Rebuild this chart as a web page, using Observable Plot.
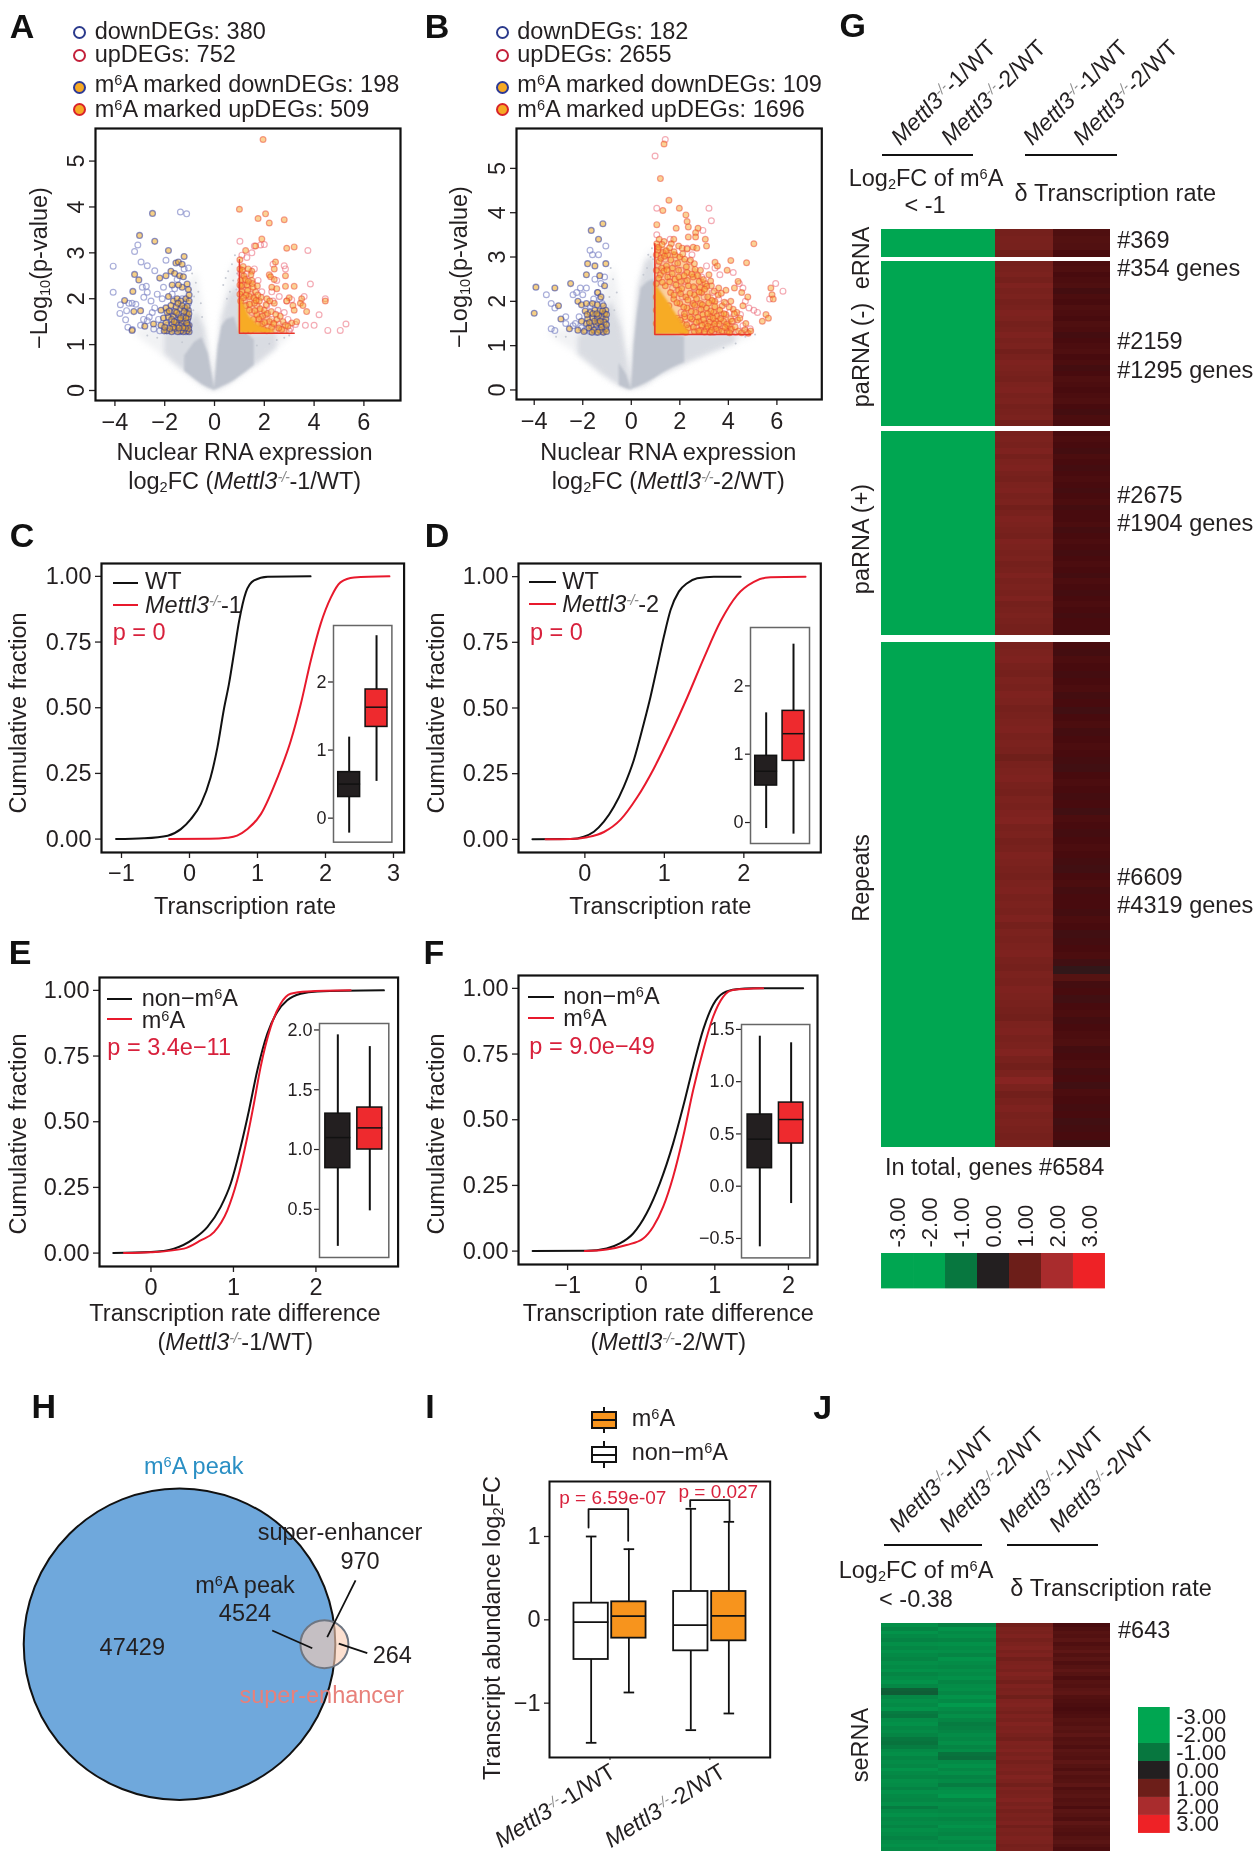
<!DOCTYPE html>
<html><head><meta charset="utf-8">
<script src="https://cdn.jsdelivr.net/npm/d3@7"></script>
<script src="https://cdn.jsdelivr.net/npm/@observablehq/plot@0.6"></script>
<style>
html,body{margin:0;padding:0;background:#fff}
#fig{position:relative;width:1260px;height:1862px;overflow:hidden;font-family:"Liberation Sans",Arial,sans-serif;color:#231f20;filter:blur(.35px)}
#fig svg{overflow:visible;max-width:none}
sup{font-size:.62em;line-height:0;vertical-align:.5em}
sub{font-size:.62em;line-height:0;vertical-align:-.22em}
sup.k{color:#8a8a8a;letter-spacing:-.04em}
</style></head><body><div id="fig"></div>
<script>
// ---------- Volcano A ----------
const aGreyFaint=[[-3.2,1.25,1.3],[-2.9,1.1,1.35],[-2.4,.9,1.4],[-2,.72,1.6],[-1.5,.5,1.9],[-1,.32,2.4],[-.7,.2,2.6],[-.4,.08,1.7],[-.2,.03,.9],[0,0,.1],[.15,.03,1],[.35,.08,1.9],[.6,.15,2.6],[.95,.28,2.9],[1.4,.45,1.3],[2,.68,1.3],[2.6,.95,1.3],[3.1,1.2,1.3]];
const aGreyMid=[[-2,.8,1.25],[-1.5,.55,1.3],[-1,.33,1.5],[-.7,.2,1.7],[-.4,.08,1.35],[-.2,.03,.7],[0,0,.05],[.1,.02,.7],[.3,.06,1.6],[.6,.14,2.1],[.95,.28,2.3],[1.3,.42,1.25],[1.9,.65,1.25],[2.5,.92,1.25]];
const aGreySolid=[[-1.2,.42,.75],[-.8,.25,1.05],[-.5,.13,1.15],[-.25,.06,.8],[-.08,.02,.3],[0,0,.04],[.05,.02,.35],[.15,.04,.95],[.3,.08,1.4],[.5,.13,1.55],[.8,.22,1.6],[1,.3,1.25],[1.3,.42,1.25],[1.6,.55,1.1]];
const aGreyDots=[[.35,2.3],[.45,2.45],[.55,2.6],[.62,2.15],[.7,2.75],[.75,2.4],[.82,2.95],[.88,2.2],[.9,2.55],[.5,2],[-.55,1.9],[-.65,2.15],[-.75,2.35],[-.82,2.05],[-.9,2.55],[-.5,1.6],[-.85,1.75],[-.95,2.2],[-1.3,1.05],[-2.3,1.15],[-2.7,1.2],[2.8,1.15],[3,1.2],[2.5,1.1],[2.2,1.02],[1.7,.98]];
const aDownOpen=[[-4.07,2.71],[-4.07,2.14],[-3.21,3.03],[-3.08,3.17],[-2.95,2.8],[-2.7,2.72],[-2.4,2.61],[-1.37,3.89],[-1.12,3.85],[-1.95,2.84],[-1.22,2.65],[-1.05,2.67],[-1.5,2.42],[-2.74,2.27],[-2.9,2.25],[-2.7,2.14],[-2.84,2.03],[-3.78,1.87],[-3.44,1.9],[-3.31,1.9],[-3.16,1.88],[-3.8,1.68],[-3.53,1.74],[-3.57,1.54],[-3.48,1.38],[-3.3,1.33],[-2.97,1.42],[-2.7,1.52],[-2.44,1.34],[-2.3,2.1],[-2.1,2],[-2.55,1.95],[-2.5,1.7],[-2.25,1.55],[-2.2,1.3],[-1.9,1.42],[-1.75,1.7],[-1.7,2.1],[-1.85,1.3],[-1.6,1.3],[-1.4,1.28],[-1.15,1.28],[-1.3,2],[-1.6,2.22],[-1.2,1.5],[-2.05,2.25],[-2.4,1.8],[-2.62,1.6],[-2.85,1.55],[-1.05,1.9],[-1.1,1.4],[-1.5,1.55]];
const aDownMarked=[[-2.49,3.86],[-3.01,3.38],[-2.4,3.25],[-1.85,3.05],[-1.22,2.92],[-3.21,2.53],[-3.04,2.41],[-3.28,2.16],[-3.61,1.96],[-3.24,1.72],[-2.97,1.74],[-3.31,1.31],[-2.2,2.45],[-1.95,2.5],[-1.55,2.78],[-1.45,2.8],[-1.3,2.75],[-1.75,2.6],[-1.6,2.55],[-1.4,2.5],[-1.25,2.48],[-1.1,2.32],[-1.05,2.2],[-1.3,2.25],[-1.45,2.3],[-1.7,2.3],[-1.85,2.05],[-1.65,1.95],[-1.5,2],[-1.35,1.95],[-1.15,2],[-1.05,1.75],[-1.2,1.8],[-1.38,1.78],[-1.55,1.82],[-1.75,1.85],[-1.95,1.8],[-2.15,1.75],[-2.05,1.58],[-1.85,1.6],[-1.65,1.62],[-1.45,1.65],[-1.25,1.62],[-1.08,1.55],[-1.02,1.42],[-1.2,1.4],[-1.32,1.45],[-1.5,1.42],[-1.7,1.45],[-1.95,1.47],[-2.15,1.42],[-1.02,1.28],[-1.1,1.3],[-1.25,1.28],[-1.35,1.3],[-1.48,1.28],[-1.6,1.35],[-1.72,1.28],[-1.92,1.3],[-2.02,1.3],[-2.45,1.45],[-2.8,1.4],[-1.05,1.6],[-1.12,1.68],[-1.02,1.95],[-1.02,2.08],[-1.08,1.42],[-1.28,1.52],[-1.6,1.72],[-1.4,1.55],[-1.9,1.7],
[-1.04,1.35],[-1.17,1.36],[-1.27,1.37],[-1.43,1.36],[-1.55,1.48],[-1.66,1.38],[-1.8,1.35],[-1.12,1.47],[-1.03,1.67],[-1.15,1.58],[-1.36,1.58],[-1.52,1.7],[-1.72,1.55],[-1.82,1.73],[-1.22,1.72],[-1.3,1.85],[-1.47,1.9],[-1.1,1.83],[-1.62,1.5],[-2,1.38]];
const aUpOpen=[[1.02,3.25],[1.1,2.95],[1.3,2.9],[1.5,3],[1.6,3.15],[1.85,3.17],[2,3.18],[3.75,3.05],[3.85,2.32],[3.6,2.05],[4.45,2],[5.28,1.45],[4.55,1.31],[5.05,1.31],[4,1.42],[4.2,1.65],[3.65,1.42],[3.25,1.44],[3.05,1.35],[2.35,2.75],[2.8,2.72],[2.85,2.65],[2.5,2.4],[2.3,2.15],[2.6,2.05],[2.9,1.95],[3.1,1.98],[2.35,1.95],[2.1,1.85],[2.55,1.75],[2.8,1.7],[1.75,2.4],[1.9,2.15],[1.6,2.65],[1.3,2.55],[1.15,2.3],[2.05,1.65],[2.3,1.55],[2.6,1.45],[2.95,1.55],[1.05,2.55],[1.45,2.1],[1.7,1.85],[1.85,1.6],[2.15,1.4],[1.2,1.95],[1.5,1.7],[1.85,1.35],[2.45,1.32],[3,1.3]];
const aUpMarked=[[1.95,5.47],[1,3.95],[2.05,3.85],[1.75,3.75],[2.2,3.65],[2.8,3.72],[1.9,3.3],[1.25,3.05],[1.65,3.15],[2.9,3.1],[3.2,3.13],[1.02,2.85],[1.02,2.65],[1.15,2.7],[1.5,2.6],[2.45,2.8],[2.4,2.65],[2.85,2.5],[2.2,2.52],[2.25,2.48],[2.4,2.42],[3.2,2.27],[2.85,2.27],[2.3,2.25],[2.5,2.22],[4.45,1.95],[3.5,2],[3.45,1.9],[3.55,1.85],[3,2.02],[2.9,1.95],[3.15,1.85],[3.2,1.75],[3.7,1.72],[2.4,1.9],[2.1,2],[1.05,2.4],[1.3,2.3],[1.5,2.4],[1.1,2.15],[1.4,2.05],[1.65,2.15],[1.05,1.95],[1.25,1.85],[1.6,1.9],[1.8,1.95],[1.4,1.75],[1.7,1.65],[2,1.75],[2.2,1.5],[2.5,1.55],[2.75,1.5],[3.1,1.47],[3.3,1.5],[1.9,1.45],[2.1,1.3],[2.3,1.38],[2.7,1.33],[2.85,1.42],[2.95,1.4],[1.02,2.1],[1.02,2.3],[1.18,2.5],[1.35,2.65],[1.55,2.25],[1.75,1.45],[1.62,1.35],[1.45,1.3],[1.25,1.3],
[1.12,2.62],[1.24,2.42],[1.33,2.18],[1.46,2.52],[1.58,2.02],[1.72,2.28],[1.83,1.78],[1.67,1.96],[1.52,2.33],[1.93,1.62],[2.02,1.48],[2.13,1.68],[2.28,1.72],[2.38,1.46],[1.87,2.03],[1.41,1.88],[1.27,2.08],[1.16,2.02],[1.08,2.28],[1.62,1.74],[1.78,1.56],[1.96,1.33],[2.58,1.36],[2.64,1.62],[2.07,1.87],[1.36,2.38],[1.74,2.08],[2.22,1.95],[2.46,1.66],[1.56,1.55]];
const aUpSpeck=[[1,1.25,2.75],[1.3,1.25,2.5],[1.6,1.25,2.15],[2,1.25,1.75],[2.5,1.25,1.5],[3,1.25,1.32]];
const aUpSolid=[[1,1.25,2.05],[1.2,1.25,1.85],[1.4,1.25,1.62],[1.7,1.25,1.45],[2,1.25,1.36],[2.4,1.25,1.3]];
const aUpEdge=[[1,2.85],[1,1.25],[3.2,1.25]];
// ---------- Volcano B ----------
const bGreyFaint=[[-3.4,1.25,1.3],[-3,1.1,1.35],[-2.4,.88,1.4],[-1.8,.6,1.7],[-1.2,.35,2.2],[-.7,.15,2.8],[-.3,.05,1.6],[0,0,.1],[.08,.03,1.2],[.3,.05,2.4],[.6,.1,3],[.95,.25,3.2],[1.5,.4,1.3],[2.5,.65,1.3],[3.5,.85,1.3],[4.5,1.1,1.3],[5,1.22,1.3]];
const bGreyMid=[[-2.2,.8,1.2],[-1.7,.58,1.35],[-1.2,.35,1.7],[-.8,.2,2],[-.4,.06,1.4],[-.15,.02,.7],[-.02,0,.1],[.06,.02,.9],[.3,.05,2.3],[.6,.1,2.9],[.95,.25,3],[1.5,.4,1.25],[2.5,.65,1.25],[3.5,.88,1.25],[4.3,1.05,1.25]];
const bGreySolid=[[-.5,.1,.6],[-.2,.03,.35],[0,0,.03],[.05,.02,.35],[.12,.04,1],[.25,.06,1.7],[.41,.1,2.3],[.7,.18,2.45],[.96,.26,2.5],[1.3,.38,1.25],[1.7,.5,1.25],[2.2,.62,1.2]];
const bGreyDots=[[-.6,2.2],[-.75,2.5],[-.85,2.75],[-.9,2.1],[-.7,1.8],[-.95,1.6],[.7,3.05],[.85,3.2],[.9,2.95],[.5,2.6],[.65,2.75],[.8,3],[-2.7,1.2],[-3.1,1.2],[4.7,1.2],[5.1,1.25],[4.3,1.05],[3.8,.95]];
const bDownOpen=[[-3.5,2.15],[-3.15,1.85],[-3.3,1.95],[-3.3,1.38],[-3.15,1.34],[-2.7,1.5],[-2.7,1.65],[-2.4,1.45],[-2.4,2.15],[-2.25,2.2],[-2.1,2.3],[-2.0,2.15],[-1.85,2.3],[-1.7,3.15],[-1.6,3.05],[-1.35,3.05],[-1.05,3.25],[-1.1,2.55],[-1.5,2.5],[-1.25,2.4],[-1.4,2.2],[-1.3,2.05],[-1.2,1.95],[-1.55,2.05],[-1.7,1.9],[-2.15,1.65],[-2.3,1.5],[-2.05,1.4],[-1.9,1.35],[-1.7,1.32],[-1.45,1.3],[-1.2,1.32],[-1.05,1.5]];
const bDownMarked=[[-4,1.73],[-3.93,2.32],[-3.15,2.3],[-3,1.9],[-2.9,1.6],[-2.5,2.4],[-1.65,3.6],[-1.17,3.75],[-1.35,3.4],[-1.05,2.85],[-1.8,2.85],[-1.5,2.8],[-1.85,2.6],[-1.3,2.58],[-1.1,2.35],[-1.38,2.2],[-1.25,2.1],[-2.2,2],[-2.05,1.92],[-1.85,1.95],[-1.6,1.95],[-1.4,1.92],[-1.15,1.9],[-1.05,1.8],[-1.3,1.78],[-1.5,1.8],[-1.7,1.75],[-1.9,1.78],[-1.6,1.62],[-1.8,1.6],[-1.4,1.62],[-1.2,1.65],[-1.05,1.6],[-1.25,1.48],[-1.45,1.48],[-1.65,1.45],[-1.85,1.5],[-2.05,1.55],[-1.05,1.38],[-1.15,1.3],[-1.3,1.35],[-1.55,1.35],[-1.75,1.4],[-1.95,1.32],[-2.2,1.35],[-2.55,1.38],[-1.35,1.68],[-1.1,1.72],
[-1.02,1.32],[-1.22,1.42],[-1.37,1.52],[-1.52,1.55],[-1.72,1.52],[-1.12,1.53],[-1.02,1.47],[-1.58,1.72],[-1.42,1.72],[-1.28,1.55],[-1.18,1.78],[-1.62,1.3],[-1.38,1.3],[-1.82,1.7],[-1.02,1.7]];
const bUpOpen=[[.98,5.28],[1.4,5.65],[1.05,4.1],[3.2,4.1],[3.3,3.82],[2.95,3.6],[1.05,3.5],[1.6,3.4],[2.3,3.2],[2.5,3.05],[3.1,2.8],[3.45,2.75],[3.65,2.6],[4.2,2.65],[4.45,2.4],[4.6,2.3],[5.95,2.4],[6.25,2.23],[5.7,2.05],[4.7,2],[4.85,1.85],[5.05,1.8],[5.2,1.75],[4.5,1.7],[4.2,1.55],[4.6,1.45],[4.9,1.38],[4.3,1.3],[4.75,1.3],[3.8,1.32],[3.4,1.3],[2.4,2.9],[2.05,2.7],[1.8,2.85],[1.4,2.95],[1.1,2.8],[1.25,3.05],[1.6,2.55],[2.2,2.45],[2.6,2.3],[2.9,2.55],[3,2.1],[3.35,2.2],[3.6,2.05],[3.9,1.95],[4.05,1.75],[3.7,1.7],[3.2,1.6],[2.8,1.8],[2.5,1.9],[2.1,2.1],[1.7,2.3],[2.05,1.75],[2.4,1.5],[2.7,1.4],[3,1.32],[3.55,1.45]];
const bUpMarked=[[1.35,5.55],[1.2,4.77],[1.55,4.28],[1.3,4.05],[1.98,4.1],[2.25,3.95],[2.3,3.8],[2.35,3.68],[1.05,3.73],[1.85,3.65],[2.35,3.45],[2.75,3.65],[2.65,3.55],[2.65,3.45],[5.05,3.3],[3.05,3.4],[3.1,3.25],[1.05,3.3],[1.15,3.4],[1.35,3.35],[1.65,3.3],[1.75,3.4],[1.95,3.25],[2.1,3.2],[2.3,3.18],[2.55,3.22],[2.7,3.2],[4.1,2.92],[3.45,2.88],[3.55,2.8],[3.95,2.7],[4.75,2.87],[1.1,3.15],[1.3,3.1],[1.5,3.05],[1.8,3.05],[2,3],[2.2,2.95],[2.6,2.85],[2.85,2.7],[3.2,2.6],[1.15,2.9],[1.45,2.8],[1.7,2.75],[1.95,2.7],[2.3,2.65],[2.55,2.55],[2.8,2.45],[3.05,2.4],[3.3,2.35],[3.6,2.3],[3.9,2.25],[4.4,2.45],[4.55,2.2],[4.25,2.3],[5.75,2.3],[5.8,2.15],[5.85,2.05],[1.2,2.6],[1.5,2.55],[1.8,2.5],[2.05,2.45],[2.35,2.35],[2.6,2.15],[2.9,2.2],[3.15,2.1],[3.45,2],[3.75,1.9],[4.1,2],[4.6,1.9],[4.8,2.1],[1.4,2.35],[1.95,2.25],[2.25,2.1],[2.55,1.95],[2.85,1.95],[3.1,1.85],[3.4,1.75],[3.65,1.8],[3.9,1.7],[4.1,1.6],[1.75,2.05],[2,1.95],[2.3,1.85],[2.65,1.75],[2.95,1.7],[3.25,1.65],[3.5,1.55],[3.8,1.55],[4,1.45],[5.4,1.55],[5.55,1.7],[5.65,1.62],[4.2,1.82],[4.35,1.75],[2.2,1.65],[2.5,1.6],[2.8,1.55],[3.05,1.5],[3.3,1.42],[3.6,1.35],[3.95,1.32],[2.35,1.4],[2.6,1.32],[2.85,1.35],[3.1,1.38],[3.25,1.3],[2.1,1.5],[1.9,1.62],[2.05,1.35],[1.75,1.4],[1.55,1.9],[1.62,2.2],[1.25,2.75],[1.03,3.05],[1.03,2.7],[1.03,2.4],[1.03,2.1],[1.03,1.8],[1.03,1.5],
[1.12,3.22],[1.27,3.28],[1.44,3.14],[1.58,3.21],[1.22,2.97],[1.37,3.02],[1.63,2.93],[1.76,3.12],[1.91,2.86],[2.12,3.07],[2.27,2.78],[2.44,2.93],[2.63,2.72],[2.49,2.61],[2.73,2.58],[2.97,2.49],[2.84,2.31],[3.11,2.34],[3.27,2.46],[3.42,2.23],[3.58,2.14],[3.33,2.02],[3.71,2.18],[3.84,1.98],[4.03,1.87],[4.24,1.72],[4.38,1.58],[1.13,2.52],[1.28,2.43],[1.34,2.68],[1.47,2.71],[1.58,2.44],[1.69,2.62],[1.84,2.37],[1.96,2.55],[2.08,2.29],[2.18,2.58],[2.31,2.47],[2.42,2.18],[2.57,2.33],[2.69,2.06],[2.79,2.21],[2.93,1.92],[3.02,2.27],[3.19,1.96],[3.28,1.78],[3.44,1.88],[3.53,1.67],[3.68,1.61],[3.82,1.72],[3.93,1.48],[4.12,1.37],[4.28,1.42],[1.76,2.14],[1.88,1.97],[2.03,2.17],[2.16,1.87],[2.33,2.03],[2.47,1.77],[2.61,1.91],[2.74,1.64],[2.87,1.82],[2.98,1.59],[3.14,1.72],[3.23,1.53],[3.37,1.62],[3.48,1.38],[3.62,1.49],[3.74,1.33],[3.86,1.41],[2.02,1.58],[2.19,1.72],[2.28,1.47],[2.43,1.64],[2.56,1.42],[2.68,1.53],[2.78,1.33],[2.91,1.46],[3.02,1.31],[3.16,1.44],[3.31,1.34],[3.43,1.49],[2.12,1.33],[2.24,1.3],[1.95,1.42],[4.42,1.33],[4.55,1.29],[4.68,1.36],[4.82,1.28],[4.92,1.33],[4.05,1.29],[4.15,1.55],[4.47,1.62],[4.72,1.5]];
const bUpSpeck=[[.97,1.25,3.3],[1.5,1.25,3.2],[2,1.25,3.05],[2.5,1.25,2.85],[2.9,1.25,2.6],[3.4,1.25,2.1],[3.9,1.25,1.7],[4.3,1.25,1.4]];
const bUpSolid=[[.97,1.25,2.4],[1.5,1.25,2],[2.1,1.25,1.5],[2.4,1.25,1.3]];
const bUpEdge=[[.97,3.3],[.97,1.25],[4.9,1.25]];
// ---------- CDF curves ----------
const cWT=[[-1.08,0],[-.67,.003],[-.32,.013],[-.127,.038],[.02,.076],[.167,.133],[.31,.234],[.41,.348],[.51,.5],[.58,.59],[.66,.717],[.73,.83],[.83,.94],[.95,.985],[1.15,.999],[1.78,1]];
const cKO=[[-.3,0],[.3,.001],[.55,.005],[.7,.013],[.853,.038],[1.05,.095],[1.294,.234],[1.49,.374],[1.637,.514],[1.784,.68],[1.93,.82],[2.08,.92],[2.22,.977],[2.42,.996],[2.94,1]];
const dWT=[[-.66,0],[-.18,.001],[-.013,.01],[.113,.029],[.239,.067],[.365,.124],[.49,.201],[.616,.302],[.742,.442],[.826,.543],[.91,.657],[.994,.772],[1.078,.873],[1.182,.943],[1.287,.975],[1.413,.994],[1.622,1],[1.96,1]];
const dKO=[[-.495,0],[-.18,.001],[.03,.008],[.24,.028],[.449,.075],[.658,.16],[.868,.27],[1.078,.4],[1.287,.54],[1.497,.69],[1.707,.83],[1.916,.93],[2.126,.98],[2.335,.998],[2.776,1]];
const eNon=[[-.457,0],[0,.004],[.279,.017],[.521,.055],[.683,.099],[.844,.175],[.966,.264],[1.087,.404],[1.188,.543],[1.289,.695],[1.41,.835],[1.531,.918],[1.652,.962],[1.814,.987],[2.016,.996],[2.824,1]];
const eM6A=[[-.327,0],[-.004,.003],[.4,.017],[.602,.048],[.764,.08],[.925,.162],[1.046,.277],[1.168,.442],[1.248,.569],[1.329,.708],[1.451,.86],[1.572,.949],[1.693,.987],[1.895,.996],[2.42,1]];
const fNon=[[-1.475,0],[-.742,.001],[-.471,.01],[-.29,.029],[-.109,.067],[.072,.143],[.253,.258],[.434,.41],[.57,.55],[.706,.703],[.842,.843],[.977,.938],[1.113,.982],[1.294,.997],[1.52,1],[2.2,1]];
const fM6A=[[-.765,0],[-.471,.006],[-.199,.023],[.027,.048],[.163,.093],[.299,.169],[.434,.283],[.57,.435],[.706,.613],[.842,.765],[.977,.892],[1.113,.968],[1.249,.994],[1.656,1]];
// ---------- Inset box plots ----------
const dark="#231f20", red="#ee2a2e", orange="#f7941d";
const cBoxes=[{pos:1,lo:-.22,q1:.31,med:.5,q3:.676,hi:1.19,fill:dark},{pos:2,lo:.54,q1:1.34,med:1.63,q3:1.89,hi:2.68,fill:red}];
const dBoxes=[{pos:1,lo:-.088,q1:.541,med:.75,q3:.976,hi:1.605,fill:dark},{pos:2,lo:-.17,q1:.902,med:1.3,q3:1.634,hi:2.61,fill:red}];
const eBoxes=[{pos:1,lo:.19,q1:.844,med:1.1,q3:1.3,hi:1.959,fill:dark},{pos:2,lo:.487,q1:1,med:1.181,q3:1.351,hi:1.861,fill:red}];
const fBoxes=[{pos:1,lo:-.58,q1:.172,med:.45,q3:.686,hi:1.435,fill:dark},{pos:2,lo:-.166,q1:.408,med:.638,q3:.8,hi:1.372,fill:red}];
const iBoxes=[{pos:.811,lo:-1.476,q1:-.476,med:-.028,q3:.2,hi:1,fill:"#fff"},{pos:1.189,lo:-.872,q1:-.22,med:.044,q3:.216,hi:.848,fill:orange},{pos:1.809,lo:-1.324,q1:-.372,med:-.064,q3:.34,hi:1.332,fill:"#fff"},{pos:2.19,lo:-1.124,q1:-.252,med:.048,q3:.34,hi:1.176,fill:orange}];
const iBrackets=[[[.785,1.108],[.785,1.328],[1.182,1.328],[1.182,.948]],[[1.803,1.356],[1.803,1.436],[2.197,1.436],[2.197,1.188]]];
// ---------- Heat maps ----------
const heatDomain=[-3,-2,-1,0,.5,1,2,3];
const heatColors=["#00a651","#00a651","#07773f","#231f20","#480b0e","#6c1e19","#a92c2d","#ee2226"];
const legendValues=[-3,-2,-1,0,1,2,3];
const sectionRows=[369,2159,2675,6609], sectionGaps=[45,67,84];
const gGreen1=[[-2.1,-2.1,-2],[-2.1,-2.05,-2.1,-2,-2.1,-2.05,-2.1,-2.1],[-2.2,-2.1,-2.15,-2.05,-2.2,-2.1,-2.15,-2.2],[-2.3,-2.2,-2.3,-2.15,-2.3,-2.2,-2.3,-2.25,-2.3,-2.3]];
const gGreen2=[[-2.2,-2.1,-2],[-2.2,-2.2,-2.1,-2,-2.1,-2.2,-2.1,-2.2],[-2.2,-2.2,-2.1,-2.2,-2.2,-2.1,-2.2,-2.2],[-2.3,-2.3,-2.2,-2.3,-2.3,-2.2,-2.3,-2.3,-2.25,-2.3]];
const gRed1=[[1.15,1.2,1.18,1.05],
[1.15,1.2,1.25,1.15,1.3,1.2,1.25,1.15,1.2,1.3,1.25,1.15,1.2,1.3,1.2,1.25,1.1,1.2,1.3,1.25,1.2,1.15,1.25,1.3,1.2,1.25,1.15,1.2,1.25,1.1],
[1.2,1.25,1.2,1.3,1.15,1.25,1.3,1.2,1.15,1.25,1.3,1.2,1.25,1.1,1.2,1.3,1.25,1.2,1.15,1.3,1.25,1.2,1.25,1.15,1.2,1.3,1.2,1.25,1.2,1.3,1.15,1.2,1.25,1.2,1.15,1.2],
[1.2,1.25,1.3,1.2,1.15,1.25,1.2,1.3,1.25,1.15,1.2,1.25,1.3,1.2,1.25,1.2,1.05,1.2,1.25,1.3,1.2,1.15,1.25,1.2,1.3,1.35,1.2,1.25,1.15,1.2,1.3,1.25,1.2,1.15,1.25,1.3,1.2,1.25,1.2,1.3,1.15,1.25,1.2,1.25,1.3,1.2,1.15,1.25,1.2,1.3,1.25,1.2,1.15,1.1,1.25,1.3,1.2,1.25,1.35,1.2,1.1,1.25,1.45,1.25,1.1,1.2,1.3,1.2,1.25,1.2,1.15,1.25]];
const gRed2=[[.6,.65,.62,.5],
[.55,.6,.5,.55,.6,.45,.55,.5,.6,.55,.5,.6,.55,.45,.5,.55,.6,.5,.55,.45,.5,.6,.55,.5,.55,.6,.5,.45,.55,.5],
[.5,.55,.5,.45,.55,.5,.45,.5,.55,.5,.45,.5,.55,.45,.5,.5,.55,.45,.5,.55,.5,.45,.5,.55,.5,.45,.55,.5,.45,.5,.55,.5,.45,.5,.5,.45],
[.5,.45,.55,.5,.45,.5,.55,.45,.5,.4,.5,.55,.45,.5,.55,.5,.45,.4,.5,.55,.5,.45,.5,.4,.55,.5,.45,.5,.55,.5,.45,.4,.5,.55,.45,.5,.5,.45,.55,.5,.4,.45,.5,.55,.4,.2,.7,.45,.5,.4,.5,.55,.45,.5,.55,.6,.45,.5,.55,.45,.5,.4,.55,.5,.45,.5,.4,.45,.5,.35]];
const jGreen1=[-1.5,-1.3,-1.6,-1.4,-1.25,-1.5,-1.35,-1.55,-1.4,-1.3,-1.5,-1.4,-1.55,-1.3,-1.45,-1.6,-1.35,-.75,-.7,-1.35,-1.5,-1.4,-1.6,-1.1,-1.0,-1.45,-1.55,-1.35,-1.45,-1.3,-1.0,-.95,-1.1,-1.4,-1.5,-1.3,-1.45,-1.35,-1.6,-1.4,-1.3,-1.5,-1.45,-1.25,-1.55,-1.4,-1.35,-1.5,-1.1,-1.4,-1.55,-1.35,-1.45,-1.3,-1.5,-1.4,-1.25,-1.45,-1.55,-1.4];
const jGreen2=[-1.2,-1.6,-1.4,-1.5,-1.3,-1.55,-1.4,-1.5,-1.3,-1.6,-1.45,-1.35,-1.5,-1.4,-1.55,-1.3,-1.45,-1.5,-1.35,-1.6,-1.4,-1.75,-1.45,-1.3,-1.5,-1.3,-1.1,-1.2,-1.3,-1.45,-1.35,-1.5,-1.3,-1.45,-.95,-.9,-1.4,-1.55,-1.35,-1.5,-1.25,-1.4,-1.1,-1.45,-1.55,-1.7,-1.3,-1.5,-1.4,-1.35,-1.5,-1.3,-1.45,-1.6,-1.4,-1.3,-1.5,-1.35,-1.55,-1.45];
const jRed1=[1.1,1.25,1.2,1.3,1.15,1.25,1.35,1.2,1.3,1.1,1.25,1.3,1.2,1.35,1.25,1.1,1.3,1.2,1.25,1.05,1.3,1.35,1.25,1.15,1.3,1.2,1.35,1.25,1.3,1.2,1.1,1.3,1.25,1.35,1.2,1.3,1.15,1.25,1.3,1.2,1.35,1.25,1.1,1.3,1.2,1.25,1.35,1.2,1.3,1.15,1.25,1.2,1.3,1.1,1.25,1.2,1.3,1.25,1.15,1.2];
const jRed2=[.5,.6,.7,.65,.75,.6,.7,.8,.65,.75,.6,.7,.8,.7,.55,.7,.65,.75,.8,.65,.6,.55,.5,.55,.6,.7,.65,.75,.7,.8,.65,.7,.6,.75,.7,.65,.8,.7,.6,.75,.65,.7,.8,.6,.7,.75,.65,.7,.55,.75,.7,.6,.8,.7,.65,.6,.7,.75,.65,.55];
// ---------- Venn ----------
const vennSets=[{x:0,y:0,radius:1,fill:"#6fa8dc",stroke:"#111",opacity:1},{x:.93,y:0,radius:.154,fill:"#facdb3",stroke:"#6e7682",opacity:.62}];
const vennLeaders=[[1.13,.409,.948,.045],[.595,.088,.852,-.026],[1.022,.003,1.205,-.058]];

const fig=document.getElementById("fig");
const FONT='"Liberation Sans",Arial,sans-serif';
const baseStyle=(l,t)=>({position:"absolute",left:l+"px",top:t+"px",background:"transparent",fontFamily:FONT,fontSize:"23.5px",color:"#231f20"});
function add(el){fig.appendChild(el);return el;}
function T(x,y,html,o={}){
  const d=document.createElement("div");
  const start=o.a==="start";
  d.innerHTML=html;
  d.style.cssText=`position:absolute;left:${x}px;top:${y}px;white-space:nowrap;line-height:1;font-size:${o.size||23.5}px;color:${o.color||"#231f20"};${o.weight?`font-weight:${o.weight};`:""}transform-origin:${start?"0 50%":"50% 50%"};transform:translate(${start?"0":"-50%"},-50%) rotate(${o.rot||0}deg);`;
  fig.appendChild(d);
}
function box(x,y,w,h,css){const d=document.createElement("div");d.style.cssText=`position:absolute;left:${x}px;top:${y}px;width:${w}px;height:${h}px;box-sizing:border-box;${css}`;fig.appendChild(d);}
const hline=(x1,x2,y,c="#111",w=2)=>box(x1,y-w/2,x2-x1,w,`background:${c}`);
const swatch=(x,y,stroke,fill)=>box(x-6.5,y-6.5,13,13,`border-radius:50%;border:2px solid ${stroke};background:${fill}`);
const KO=n=>`<i>Mettl3<sup class="k">-/-</sup></i>-${n}`;
const pairs=(a,k={})=>({x:d=>d[0],y:d=>d[1],...k});
const blurred=px=>(i,s,v,d,c,next)=>{const g=next(i,s,v,d,c);g.style.filter=`blur(${px}px)`;return g;};
const band=(rows,k)=>Plot.areaY(rows,{x:d=>d[0],y1:d=>d[1],y2:d=>d[2],...k});

function volcano({frame:[l,t,r,b],xD,yD,faint,mid,solid,dots,downOpen,downMarked,upOpen,upMarked,upSpeck,upSolid,upEdge}){
  const mL=50,mB=40,mT=6,mR=6;
  add(Plot.plot({width:r-l+mL+mR,height:b-t+mT+mB,marginLeft:mL,marginBottom:mB,marginTop:mT,marginRight:mR,style:baseStyle(l-mL,t-mT),
    x:{domain:xD},y:{domain:yD},
    marks:[
      band(faint,{fill:"#cdd0d8",fillOpacity:.28,render:blurred(3)}),
      band(mid,{fill:"#c6cad3",fillOpacity:.55,render:blurred(2.5)}),
      band(solid,{fill:"#bfc4ce",render:blurred(1)}),
      Plot.dot(dots,pairs(0,{r:1,fill:"#c6cad3"})),
      band(upSpeck,{fill:"#f9a23c",fillOpacity:.5}),
      Plot.dot(downOpen,pairs(0,{r:2.9,stroke:"#7d84c4",strokeOpacity:.65,strokeWidth:1.2})),
      Plot.dot(downMarked,pairs(0,{r:2.9,stroke:"#2d3aa0",strokeOpacity:.55,strokeWidth:1.3,fill:"#eea924",fillOpacity:.55})),
      Plot.dot(upOpen,pairs(0,{r:2.9,stroke:"#ea5a6c",strokeOpacity:.5,strokeWidth:1.2})),
      Plot.dot(upMarked,pairs(0,{r:2.9,stroke:"#ea3f2e",strokeOpacity:.48,strokeWidth:1.2,fill:"#f7a62c",fillOpacity:.5})),
      band(upSolid,{fill:"#f7ab25",render:blurred(1)}),
      Plot.line(upEdge,pairs(0,{stroke:"#e8352a",strokeWidth:1.5})),
      Plot.axisX({ticks:[-4,-2,0,2,4,6],tickFormat:"d",tickSize:6,tickPadding:7,label:null,strokeWidth:1.3}),
      Plot.axisY({ticks:[0,1,2,3,4,5],tickFormat:"d",tickSize:6,tickPadding:6,tickRotate:-90,label:null,strokeWidth:1.3}),
      Plot.frame({stroke:"#111",strokeWidth:2.2})
    ]}));
}
function cdf({frame:[l,t,r,b],xD,yD,xTicks,black,redline}){
  const mL=70,mB=40,mT=6,mR=6;
  add(Plot.plot({width:r-l+mL+mR,height:b-t+mT+mB,marginLeft:mL,marginBottom:mB,marginTop:mT,marginRight:mR,style:baseStyle(l-mL,t-mT),
    x:{domain:xD},y:{domain:yD},
    marks:[
      Plot.line(black,pairs(0,{stroke:"#111",strokeWidth:2,curve:"monotone-x"})),
      Plot.line(redline,pairs(0,{stroke:"#e8192c",strokeWidth:2,curve:"monotone-x"})),
      Plot.axisX({ticks:xTicks,tickFormat:"d",tickSize:6,tickPadding:6,label:null,strokeWidth:1.3}),
      Plot.axisY({ticks:[0,.25,.5,.75,1],tickFormat:".2f",tickSize:6,tickPadding:4,label:null,strokeWidth:1.3}),
      Plot.frame({stroke:"#111",strokeWidth:2.2})
    ]}));
}
function inset({frame:[l,t,r,b],xD,yD,ticks,fmt,rows,hw}){
  const mL=40,mB=2,mT=2,mR=2;
  add(Plot.plot({width:r-l+mL+mR,height:b-t+mT+mB,marginLeft:mL,marginBottom:mB,marginTop:mT,marginRight:mR,style:baseStyle(l-mL,t-mT),
    x:{domain:xD},y:{domain:yD},color:{type:"identity"},
    marks:[
      Plot.ruleX(rows,{x:"pos",y1:"lo",y2:"hi",stroke:"#111",strokeWidth:2}),
      Plot.rect(rows,{x1:d=>d.pos-hw,x2:d=>d.pos+hw,y1:"q1",y2:"q3",fill:"fill",stroke:"#111",strokeWidth:1.5}),
      Plot.link(rows,{x1:d=>d.pos-hw,x2:d=>d.pos+hw,y1:"med",y2:"med",stroke:"#111",strokeWidth:1.5}),
      Plot.axisX({ticks:[],label:null}),
      Plot.axisY({ticks,tickFormat:fmt,tickSize:5,tickPadding:2,label:null,fontSize:18,strokeWidth:1.2}),
      Plot.frame({stroke:"#666",strokeWidth:1.5})
    ]}));
}
const heatColor={type:"linear",domain:heatDomain,range:heatColors};
function heatRows(cols,starts,spans){
  const out=[];
  cols.forEach((secs,c)=>secs.forEach((vals,s)=>vals.forEach((v,i)=>out.push({c,v,y1:starts[s]+spans[s]*i/vals.length,y2:starts[s]+spans[s]*(i+1)/vals.length}))));
  return out;
}
function heat(l,t,w,h,total,cells){
  add(Plot.plot({width:w,height:h,margin:0,style:baseStyle(l,t),x:{domain:[0,4],axis:null,range:[0,w]},y:{domain:[0,total],axis:null,range:[0,h]},color:heatColor,
    marks:[Plot.rect(cells,{x1:"c",x2:d=>d.c+1,y1:"y1",y2:"y2",fill:"v",shapeRendering:"crispEdges"})]}));
}

// ===== A, B =====
volcano({frame:[95,128,400,400],xD:[-4.78,7.47],yD:[-.218,5.71],faint:aGreyFaint,mid:aGreyMid,solid:aGreySolid,dots:aGreyDots,downOpen:aDownOpen,downMarked:aDownMarked,upOpen:aUpOpen,upMarked:aUpMarked,upSpeck:aUpSpeck,upSolid:aUpSolid,upEdge:aUpEdge});
volcano({frame:[515.7,128,821,399],xD:[-4.73,7.85],yD:[-.215,5.9],faint:bGreyFaint,mid:bGreyMid,solid:bGreySolid,dots:bGreyDots,downOpen:bDownOpen,downMarked:bDownMarked,upOpen:bUpOpen,upMarked:bUpMarked,upSpeck:bUpSpeck,upSolid:bUpSolid,upEdge:bUpEdge});
const legendTexts=[[["downDEGs: 380","upDEGs: 752","m<sup>6</sup>A marked downDEGs: 198","m<sup>6</sup>A marked upDEGs: 509"],94.7,79.3],[["downDEGs: 182","upDEGs: 2655","m<sup>6</sup>A marked downDEGs: 109","m<sup>6</sup>A marked upDEGs: 1696"],517.3,502.7]];
legendTexts.forEach(([txt,tx,cx])=>{
  [31.5,54.5,84.5,109.5].forEach((y,i)=>T(tx,y,txt[i],{a:"start"}));
  swatch(cx,32.7,"#2b3a8c","#fff");swatch(cx,55.3,"#c3203a","#fff");swatch(cx,87,"#2d3a96","#f6a924");swatch(cx,109.7,"#d8232a","#f6a924");
});
T(40,267.5,"−Log<sub>10</sub>(p-value)",{rot:-90});
T(460,266.7,"−Log<sub>10</sub>(p-value)",{rot:-90});
T(244.5,453,"Nuclear RNA expression");T(244.7,481.7,`log<sub>2</sub>FC (${KO(1)}/WT)`);
T(668.3,453,"Nuclear RNA expression");T(668.3,481.7,`log<sub>2</sub>FC (${KO(2)}/WT)`);

// ===== C-F =====
const yCdf=[-.051,1.049];
cdf({frame:[100.7,562.7,403.3,851.7],xD:[-1.294,3.156],yD:yCdf,xTicks:[-1,0,1,2,3],black:cWT,redline:cKO});
cdf({frame:[517.7,563.3,820,852.3],xD:[-.835,2.968],yD:[-.05,1.05],xTicks:[0,1,2],black:dWT,redline:dKO});
cdf({frame:[98.7,976.7,397.3,1265.7],xD:[-.624,2.996],yD:yCdf,xTicks:[0,1,2],black:eNon,redline:eM6A});
cdf({frame:[518.3,975,817.3,1264],xD:[-1.667,2.395],yD:yCdf,xTicks:[-1,0,1,2],black:fNon,redline:fM6A});
inset({frame:[333.3,625,391.7,841.7],xD:[.427,2.561],yD:[-.353,2.83],ticks:[0,1,2],fmt:"d",rows:cBoxes,hw:.4});
inset({frame:[750,627.3,809,843.3],xD:[.427,2.585],yD:[-.307,2.854],ticks:[0,1,2],fmt:"d",rows:dBoxes,hw:.4});
inset({frame:[319,1023.3,388.3,1257.3],xD:[.427,2.594],yD:[.097,2.054],ticks:[.5,1,1.5,2],fmt:".1f",rows:eBoxes,hw:.39});
inset({frame:[740.7,1024.3,809,1257.7],xD:[.415,2.596],yD:[-.686,1.547],ticks:[-.5,0,.5,1,1.5],fmt:".1f",rows:fBoxes,hw:.39});
[[19.3,713.3],[437.3,713],[19.3,1134],[437.3,1134]].forEach(([x,y])=>T(x,y,"Cumulative fraction",{rot:-90}));
T(245,906.7,"Transcription rate");T(660.3,906.7,"Transcription rate");
T(235,1314,"Transcription rate difference");T(235.3,1343,`(${KO(1)}/WT)`);
T(668.3,1314,"Transcription rate difference");T(668.3,1343,`(${KO(2)}/WT)`);
hline(112.7,138.3,583.3);hline(112.7,138.3,605,"#e8192c");
T(145,582.3,"WT",{a:"start"});T(145,605.7,KO(1),{a:"start"});T(112.7,633.3,"p = 0",{a:"start",color:"#d8213c"});
hline(529.3,555.7,581.7);hline(529.3,555.7,604,"#e8192c");
T(562.3,581.7,"WT",{a:"start"});T(562.3,604.5,KO(2),{a:"start"});T(530,633,"p = 0",{a:"start",color:"#d8213c"});
hline(106.7,131.7,999.3);hline(106.7,131.7,1019.3,"#e8192c");
T(141.7,999.3,"non−m<sup>6</sup>A",{a:"start"});T(141.7,1021,"m<sup>6</sup>A",{a:"start"});T(107.3,1047.7,"p = 3.4e−11",{a:"start",color:"#d8213c"});
hline(528.3,554.3,997.3);hline(528.3,554.3,1018.3,"#e8192c");
T(563.3,997,"non−m<sup>6</sup>A",{a:"start"});T(563.3,1019,"m<sup>6</sup>A",{a:"start"});T(529.3,1047.3,"p = 9.0e−49",{a:"start",color:"#d8213c"});

// ===== G =====
const gStarts=[0,414,2640,5399];
heat(881,229.4,229,917.9,12008,heatRows([gGreen1,gGreen2,gRed1,gRed2],gStarts,sectionRows));
add(Plot.plot({width:230,height:35.4,margin:0,marginTop:0,style:baseStyle(878,1253.3),x:{type:"band",domain:legendValues,padding:0,range:[0,230]},color:heatColor,
  marks:[Plot.cell(legendValues,{x:d=>d,fill:d=>d,inset:0}),Plot.axisX({anchor:"top",tickSize:0,tickPadding:6,tickRotate:-90,fontSize:22,tickFormat:d=>d.toFixed(2),label:null})]}));
[[895,141],[945,141],[1026.7,141],[1076.7,141]].forEach(([x,y],i)=>T(x,y,KO(i%2+1)+"/WT",{a:"start",rot:-45,size:23}));
hline(881.7,972.7,154.5);hline(1025,1116.7,154.5);
T(926,179,"Log<sub>2</sub>FC of m<sup>6</sup>A");T(925,206,"&lt; -1");
T(1115.3,193.6,"δ Transcription rate");
[[241,"#369"],[268.6,"#354 genes"],[341.8,"#2159"],[370.5,"#1295 genes"],[495.9,"#2675"],[524.2,"#1904 genes"],[878,"#6609"],[906,"#4319 genes"]].forEach(([y,s])=>T(1117.3,y,s,{a:"start"}));
[[257.7,"eRNA"],[355,"paRNA (-)"],[539,"paRNA (+)"],[878,"Repeats"]].forEach(([y,s])=>T(861.7,y,s,{rot:-90}));
T(994.7,1168.3,"In total, genes #6584");

// ===== H =====
add(Plot.plot({width:440,height:370,margin:0,style:baseStyle(0,1460),x:{domain:[-1.149,1.675],range:[0,440],axis:null},y:{domain:[-1.196,1.179],range:[370,0],axis:null},
  r:{type:"linear",domain:[0,1],range:[0,155.8]},
  marks:[
    Plot.dot(vennSets,{x:"x",y:"y",r:"radius",fill:"fill",stroke:"stroke",strokeWidth:2,fillOpacity:"opacity"}),
    Plot.link(vennLeaders,{x1:d=>d[0],y1:d=>d[1],x2:d=>d[2],y2:d=>d[3],stroke:"#111",strokeWidth:1.8})
  ]}));
T(193.8,1466.7,"m<sup>6</sup>A peak",{color:"#2a8fc4"});
T(340,1533.3,"super-enhancer");T(360,1561.7,"970");
T(245,1585.7,"m<sup>6</sup>A peak");T(245,1614.3,"4524");
T(132.3,1647.7,"47429");T(392.3,1656,"264");
T(321.7,1695.7,"super-enhancer",{color:"#e8807a"});

// ===== I =====
{
  const mL=50,mB=10,mT=4,mR=4,l=549.3,t=1480.7,r=770,b=1756.7,cap=.053,hw=.172;
  add(Plot.plot({width:r-l+mL+mR,height:b-t+mT+mB,marginLeft:mL,marginBottom:mB,marginTop:mT,marginRight:mR,style:baseStyle(l-mL,t-mT),
    x:{domain:[.394,2.604]},y:{domain:[-1.652,1.66]},color:{type:"identity"},
    marks:[
      Plot.ruleX(iBoxes,{x:"pos",y1:"lo",y2:"hi",stroke:"#111",strokeWidth:1.8}),
      Plot.link(iBoxes,{x1:d=>d.pos-cap,x2:d=>d.pos+cap,y1:"lo",y2:"lo",stroke:"#111",strokeWidth:1.8}),
      Plot.link(iBoxes,{x1:d=>d.pos-cap,x2:d=>d.pos+cap,y1:"hi",y2:"hi",stroke:"#111",strokeWidth:1.8}),
      Plot.rect(iBoxes,{x1:d=>d.pos-hw,x2:d=>d.pos+hw,y1:"q1",y2:"q3",fill:"fill",stroke:"#111",strokeWidth:1.8}),
      Plot.link(iBoxes,{x1:d=>d.pos-hw,x2:d=>d.pos+hw,y1:"med",y2:"med",stroke:"#111",strokeWidth:1.8}),
      ...iBrackets.map(br=>Plot.line(br,pairs(0,{stroke:"#111",strokeWidth:1.8}))),
      Plot.axisX({ticks:[1,2],tickSize:3,tickFormat:()=>"",label:null}),
      Plot.axisY({ticks:[-1,0,1],tickFormat:"d",tickSize:5,tickPadding:4,label:null,strokeWidth:1.3}),
      Plot.frame({stroke:"#111",strokeWidth:2})
    ]}));
}
T(493.3,1627.5,"Transcript abundance log<sub>2</sub>FC",{rot:-90});
T(612.8,1496.7,"p = 6.59e-07",{size:19,color:"#d8213c"});
T(718.3,1491,"p = 0.027",{size:19,color:"#d8213c"});
T(496.7,1841.7,KO(1)+"/WT",{a:"start",rot:-32,size:23});T(606.7,1841.7,KO(2)+"/WT",{a:"start",rot:-32,size:23});
[[1411.3,1429,1406.7,1433,orange],[1445.7,1463.3,1441,1468.3,"#fff"]].forEach(([y1,y2,w1,w2,f])=>{
  box(602.7,w1,2,w2-w1,"background:#111");
  box(590.7,y1,26,y2-y1,`background:${f};border:2px solid #111`);
  box(590.7,(y1+y2)/2-1,26,2,"background:#111");
});
T(631.7,1419.3,"m<sup>6</sup>A",{a:"start"});T(631.7,1453.3,"non−m<sup>6</sup>A",{a:"start"});

// ===== J =====
heat(881,1622.7,229,228.3,1,heatRows([[jGreen1],[jGreen2],[jRed1],[jRed2]],[0],[1]));
add(Plot.plot({width:31.7,height:126.7,margin:0,marginRight:0,style:baseStyle(1138.3,1707.3),y:{type:"band",domain:legendValues,padding:0,range:[0,126.7]},color:heatColor,
  marks:[Plot.cell(legendValues,{y:d=>d,fill:d=>d,inset:0}),Plot.axisY({anchor:"right",tickSize:0,tickPadding:6,fontSize:22,tickFormat:d=>d.toFixed(2),label:null})]}));
[[893.3,1528],[942.7,1528],[1003.3,1528],[1053.3,1528]].forEach(([x,y],i)=>T(x,y,KO(i%2+1)+"/WT",{a:"start",rot:-45,size:23}));
hline(883.7,982,1544.5);hline(1006.7,1098,1544.5);
T(916,1571,"Log<sub>2</sub>FC of m<sup>6</sup>A");T(916,1600,"&lt; -0.38");
T(1111,1589,"δ Transcription rate");
T(1118,1631,"#643",{a:"start"});
T(861,1745,"seRNA",{rot:-90});

// ===== Panel letters =====
[["A",22,26],["B",437,26],["C",22,535],["D",437,535],["E",20,952],["F",434,952],["G",852.7,25],["H",43.7,1405.7],["I",430,1406],["J",822.7,1406.7]].forEach(([s,x,y])=>T(x,y,s,{size:34,weight:700,color:"#111"}));
</script></body></html>
